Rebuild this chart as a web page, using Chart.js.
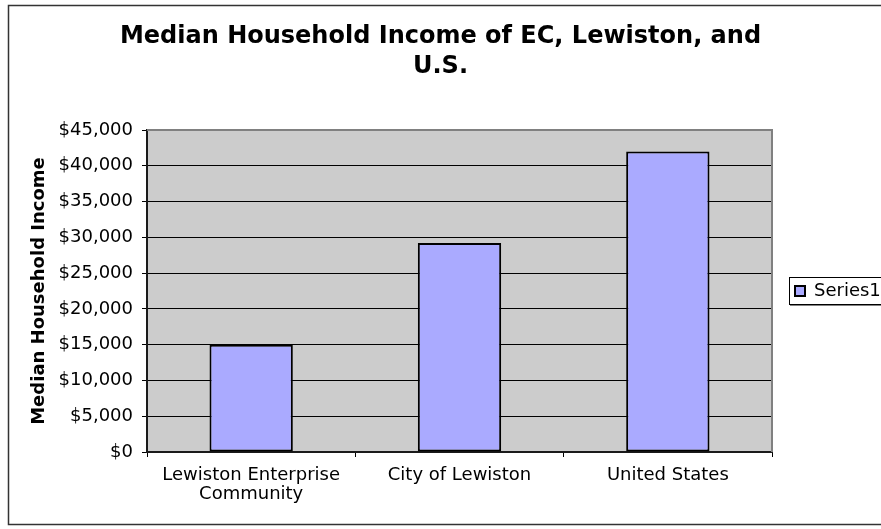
<!DOCTYPE html>
<html>
<head>
<meta charset="utf-8">
<title>Median Household Income of EC, Lewiston, and U.S.</title>
<script src="https://cdn.jsdelivr.net/npm/chart.js@4.4.1/dist/chart.umd.min.js"></script>
<style>
  html, body { margin: 0; padding: 0; background: #fff; }
  #chart { width: 881px; height: 529px; }
</style>
</head>
<body>
<div id="chart">
  <canvas id="incomeChart" width="881" height="529"></canvas>
</div>
<script>
const categories = [["Lewiston Enterprise", "Community"], "City of Lewiston", "United States"];
const incomeValues = [15000, 29191, 41994];
const seriesName = "Series1";
const chartTitle = ["Median Household Income of EC, Lewiston, and", "U.S."];
const yAxisTitle = "Median Household Income";
const yMax = 45000;
const yStep = 5000;

const fontFamily = "'DejaVu Sans', Verdana, sans-serif";

const formatDollars = (v) => "$" + String(v).replace(/\B(?=(\d{3})+(?!\d))/g, ",");

// excel style frame, plot background and legend border
const excelLook = {
  id: "excelLook",
  beforeDraw(chart) {
    const { ctx, chartArea } = chart;
    ctx.save();
    ctx.fillStyle = "#ffffff";
    ctx.fillRect(0, 0, chart.width, chart.height);
    ctx.fillStyle = "#cccccc";
    ctx.fillRect(chartArea.left, chartArea.top, chartArea.right - chartArea.left, chartArea.bottom - chartArea.top);
    ctx.restore();
  },
  beforeDatasetsDraw(chart) {
    const { ctx, chartArea } = chart;
    ctx.save();
    ctx.strokeStyle = "#808080";
    ctx.lineWidth = 2;
    ctx.beginPath();
    ctx.moveTo(chartArea.left, chartArea.top);
    ctx.lineTo(chartArea.right, chartArea.top);
    ctx.lineTo(chartArea.right, chartArea.bottom);
    ctx.stroke();
    ctx.restore();
  },
  afterDraw(chart) {
    const { ctx } = chart;
    ctx.save();
    ctx.strokeStyle = "#333333";
    ctx.lineWidth = 1.5;
    ctx.strokeRect(8.5, 5.5, 890, 519);

    const box = chart.legend.legendHitBoxes[0];
    if (box) {
      ctx.strokeStyle = "#000000";
      ctx.lineWidth = 1;
      const top = Math.round(box.top) - 4.5;
      const bottom = Math.round(box.top + box.height) + 4.5;
      ctx.strokeRect(789.5, top, 120, bottom - top);
      ctx.strokeStyle = "#808080";
      ctx.beginPath();
      ctx.moveTo(790, bottom + 1);
      ctx.lineTo(881, bottom + 1);
      ctx.stroke();
    }
    ctx.restore();
  },
};

const ctx = document.getElementById("incomeChart").getContext("2d");

new Chart(ctx, {
  type: "bar",
  data: {
    labels: categories,
    datasets: [
      {
        label: seriesName,
        data: incomeValues,
        backgroundColor: "#aaaaff",
        borderColor: "#000000",
        borderWidth: 2,
        borderSkipped: false,
        barPercentage: 0.4,
        categoryPercentage: 1,
      },
    ],
  },
  options: {
    responsive: false,
    animation: false,
    devicePixelRatio: 1,
    layout: { padding: 0 },
    plugins: {
      title: {
        display: true,
        text: chartTitle,
        color: "#000000",
        font: { family: fontFamily, size: 24, weight: "bold", lineHeight: 1.25 },
        padding: { top: 22, bottom: 48 },
      },
      legend: {
        display: true,
        position: "right",
        fullSize: false,
        maxWidth: 109,
        labels: {
          color: "#000000",
          font: { family: fontFamily, size: 18 },
          boxWidth: 10,
          boxHeight: 10,
          padding: 23,
        },
      },
      tooltip: { enabled: false },
    },
    scales: {
      x: {
        grid: {
          drawOnChartArea: false,
          drawTicks: true,
          tickLength: 5,
          color: "#000000",
        },
        border: { color: "#1a1a1a", width: 2 },
        ticks: {
          color: "#000000",
          font: { family: fontFamily, size: 18, lineHeight: 1.05 },
          padding: 9,
          maxRotation: 0,
          autoSkip: false,
        },
        afterFit(scale) {
          scale.height = 77;
        },
      },
      y: {
        min: 0,
        max: yMax,
        grid: {
          color: (c) => (c.tick && c.tick.value === yMax ? "#808080" : "#000000"),
          tickColor: "#000000",
          tickLength: 5,
          lineWidth: 1,
        },
        border: { color: "#1a1a1a", width: 2 },
        ticks: {
          stepSize: yStep,
          color: "#000000",
          font: { family: fontFamily, size: 18 },
          padding: 9,
          callback: (v) => formatDollars(v),
        },
        title: {
          display: true,
          text: yAxisTitle,
          color: "#000000",
          font: { family: fontFamily, size: 18, weight: "bold" },
          padding: { top: 29, bottom: 0 },
        },
        afterFit(scale) {
          scale.width = 147;
        },
      },
    },
  },
  plugins: [excelLook],
});
</script>
</body>
</html>
